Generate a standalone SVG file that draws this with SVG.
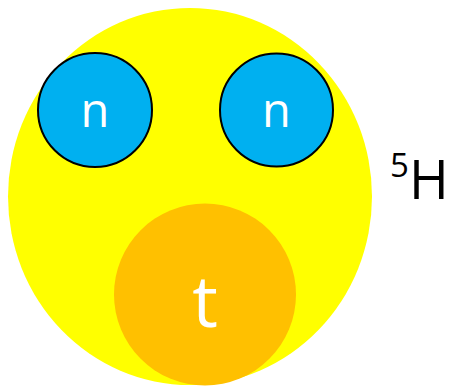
<svg xmlns="http://www.w3.org/2000/svg" width="452" height="388" viewBox="0 0 452 388">
<style>
.lbl{font-family:"Open Sans","DejaVu Sans",sans-serif;fill:#fff;text-anchor:middle}
.n{fill:#00b0f0;stroke:#000;stroke-width:2}
</style>
<rect width="452" height="388" fill="#fff"/>
<g id="nucleus"><ellipse cx="190" cy="196.5" rx="182" ry="188.5" fill="#ffff00"/></g>
<g id="neutron1"><circle class="n" cx="95" cy="110" r="57"/><text class="lbl" x="95" y="126.5" font-size="47">n</text></g>
<g id="neutron2"><circle class="n" cx="276.5" cy="110" r="56.5"/><text class="lbl" x="276.5" y="126.5" font-size="47">n</text></g>
<g id="triton"><circle cx="205" cy="294.5" r="91" fill="#ffc000"/><text class="lbl" x="205" y="327" font-size="72">t</text></g>
<g id="label"><text x="390" y="199" font-family="Open Sans,DejaVu Sans,sans-serif" font-size="54" fill="#000"><tspan font-size="33" dy="-22">5</tspan><tspan dy="22">H</tspan></text></g>
</svg>
